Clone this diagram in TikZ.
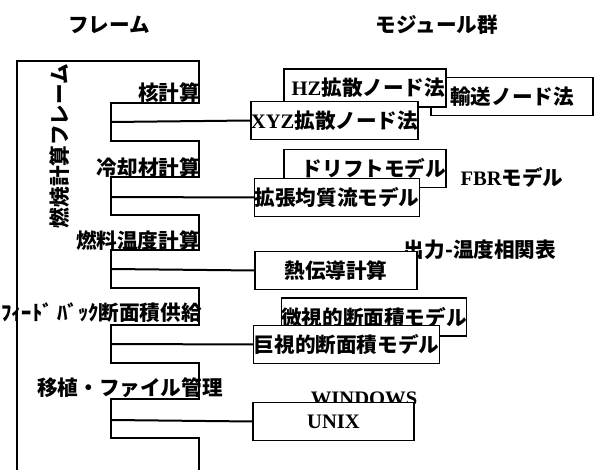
\documentclass[tikz,border=0pt]{standalone}
\usepackage{fontspec}
\setmainfont{Liberation Serif}
\newfontfamily\jp{Noto Sans CJK JP}
\newcommand\fs{\fontsize{20.6}{24}\selectfont}
\begin{document}
\begin{tikzpicture}[x=1pt,y=-1pt,
  fr/.style={line width=1.2pt},
  conn/.style={line width=2pt},
  mod/.style={draw, fill=white, line width=1.1pt, inner sep=0pt, minimum height=38pt, font=\fs\bfseries},
  lab/.style={inner sep=0pt, font=\fs\jp\bfseries},
  lat/.style={inner sep=0pt, font=\fs\bfseries}]
\useasboundingbox (0,0) rectangle (598,470);
% headings
\node[lab] (h1) at (109,25) {フレーム};
\node[lab] (h2) at (437,25) {モジュール群};
% frame
\draw[fr] (17,470) -- (17,61) -- (199,61) -- (199,103) -- (111,103) -- (111,141) -- (199,141)
  -- (199,177) -- (111,177) -- (111,215) -- (199,215)
  -- (199,250) -- (111,250) -- (111,288) -- (199,288)
  -- (199,325) -- (111,325) -- (111,363) -- (199,363)
  -- (199,399) -- (111,399) -- (111,438) -- (199,438) -- (199,470);
\node[lab, rotate=90] (fl) at (60,146) {燃焼計算フレーム};
\node[lab, anchor=east] (f1) at (200,93) {核計算};
\node[lab, anchor=east] (f2) at (200,168) {冷却材計算};
\node[lab, anchor=east] (f3) at (200,241) {燃料温度計算};
\node[lab, anchor=east] (f4) at (202,313) {ﾌｨｰﾄﾞ ﾊﾞｯｸ断面積供給};
\node[lab] (f5) at (130,388) {移植・ファイル管理};
\coordinate (c1) at (111,122);
\coordinate (c2) at (111,197);
\coordinate (c3) at (111,269);
\coordinate (c4) at (111,344);
\coordinate (c5) at (111,420);
% modules
\node[mod, minimum width=162pt] (m3) at (512,96.5) {\jp 輸送ノード法};
\node[mod, minimum width=162pt, text width=160pt, align=right] (m2) at (365,88) {HZ\jp 拡散ノード法};
\node[mod, minimum width=163pt] (m1) at (334.5,120.5) {XYZ\jp 拡散ノード法};
\node[mod, minimum width=162pt, text width=162pt, align=right] (m4) at (365,168.5) {\jp ドリフトモデル};
\node[mod, minimum width=162pt] (m5) at (337,197.5) {\jp 拡張均質流モデル};
\node[lat] (t1) at (512,177) {FBR\jp モデル};
\node[lab] (t2) at (480,250) {出力-温度相関表};
\node[mod, minimum width=162pt] (m6) at (336,270.5) {\jp 熱伝導計算};
\node[mod, minimum width=180pt] (m7) at (374,317) {\jp 微視的断面積モデル};
\node[mod, minimum width=183pt] (m8) at (346.5,344.5) {\jp 巨視的断面積モデル};
\node[lat] (t3) at (364,399) {WINDOWS};
\node[mod, minimum width=161pt] (m9) at (333.5,421.5) {UNIX};
% connectors
\draw[conn] (c1) -- (m1.west);
\draw[conn] (c2) -- (m5.west);
\draw[conn] (c3) -- (m6.west);
\draw[conn] (c4) -- (m8.west);
\draw[conn] (c5) -- (m9.west);
\end{tikzpicture}
\end{document}
